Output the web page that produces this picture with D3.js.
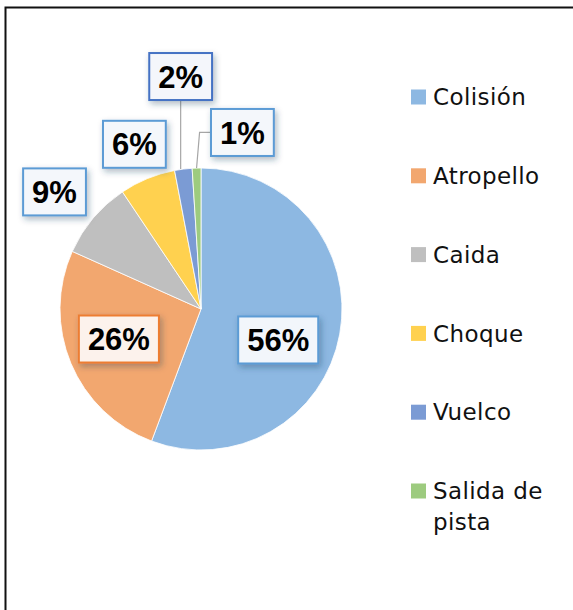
<!DOCTYPE html>
<html>
<head>
<meta charset="utf-8">
<script src="https://cdn.jsdelivr.net/npm/d3@7"></script>
<style>
  body { margin: 0; background: #fff; }
</style>
</head>
<body>
<div id="chart"></div>
<script>
// data
const categories = ["Colisión", "Atropello", "Caida", "Choque", "Vuelco", "Salida de pista"];
const values = [55.7, 26.0, 8.9, 6.4, 2.0, 1.0];
const colors = ["#8db8e2", "#f2a76f", "#bfbfbf", "#ffd14f", "#7b9bd4", "#9dcb7f"];
const labelBorders = ["#5b9bd5", "#ed7d31", "#5b9bd5", "#5b9bd5", "#4472c4", "#5b9bd5"];
const labelFills = ["#f2f6fb", "#fcf2ec", "#f4f7fb", "#f4f7fb", "#f4f6fb", "#f4f7fb"];

const width = 573, height = 610;
const cx = 201, cy = 309, radius = 141;

// label placement: distance from centre (as fraction of radius) and angle nudge (degrees)
const labelPlace = [
  { r: 0.59, da: 11.6 },
  { r: 0.62, da: 2.6 },
  { r: 1.33, da: -1.5 },
  { r: 1.26, da: 0.3 },
  { r: 1.655, da: 2.2 },
  { r: 1.286, da: 15 }
];

const svg = d3.select("#chart")
  .append("svg")
  .attr("width", width)
  .attr("height", height);

const defs = svg.append("defs");
const shadow = defs.append("filter").attr("id", "shadow")
  .attr("x", "-30%").attr("y", "-30%").attr("width", "160%").attr("height", "170%");
shadow.append("feDropShadow")
  .attr("dx", 2).attr("dy", 3).attr("stdDeviation", 3)
  .attr("flood-color", "#1f3b5c").attr("flood-opacity", 0.35);

// outer frame
svg.append("rect")
  .attr("x", 5.5).attr("y", 7.5)
  .attr("width", 600).attr("height", 640)
  .attr("fill", "none")
  .attr("stroke", "#111")
  .attr("stroke-width", 2);

const pie = d3.pie().sort(null).value(d => d)(values);
const arc = d3.arc().innerRadius(0).outerRadius(radius);

const g = svg.append("g").attr("transform", "translate(" + cx + "," + cy + ")");

g.selectAll("path")
  .data(pie)
  .enter().append("path")
  .attr("d", arc)
  .attr("fill", (d, i) => colors[i])
  .attr("stroke", "#fff")
  .attr("stroke-width", 0.8);

// label positions
const pos = pie.map((d, i) => {
  const a = (d.startAngle + d.endAngle) / 2 + labelPlace[i].da * Math.PI / 180;
  const r = radius * labelPlace[i].r;
  return { x: Math.sin(a) * r, y: -Math.cos(a) * r };
});

// leader lines for the two smallest slices
const edge = (d, f) => {
  const a = d.startAngle + (d.endAngle - d.startAngle) * f;
  return [Math.sin(a) * radius, -Math.cos(a) * radius];
};
const lineColor = "#a6a6a6";
{
  const p = pos[4];
  const e = edge(pie[4], 0.5);
  g.append("line")
    .attr("x1", p.x).attr("y1", p.y + 24)
    .attr("x2", p.x).attr("y2", e[1])
    .attr("stroke", lineColor).attr("stroke-width", 1.2);
}
{
  const p = pos[5];
  const e = edge(pie[5], 0.5);
  const bx = p.x - 31;
  g.append("polyline")
    .attr("points", [[bx, p.y], [e[0] + 3, p.y], [e[0], e[1]]].map(q => q.join(",")).join(" "))
    .attr("fill", "none")
    .attr("stroke", lineColor).attr("stroke-width", 1.2);
}

// data labels
const labels = g.selectAll("g.lbl")
  .data(pie)
  .enter().append("g")
  .attr("class", "lbl")
  .attr("transform", (d, i) => "translate(" + pos[i].x + "," + pos[i].y + ")");

labels.each(function (d, i) {
  const sel = d3.select(this);
  const rect = sel.append("rect");
  const txt = sel.append("text")
    .attr("text-anchor", "middle")
    .attr("dy", "0.36em")
    .attr("font-family", "'Liberation Sans', Arial, sans-serif")
    .attr("font-weight", "bold")
    .attr("font-size", 31)
    .attr("fill", "#000")
    .text(Math.round(d.value) + "%");
  const w = txt.node().getComputedTextLength() + 18;
  const h = 47;
  rect.attr("x", -w / 2).attr("y", -h / 2)
    .attr("width", w).attr("height", h)
    .attr("fill", labelFills[i])
    .attr("stroke", labelBorders[i])
    .attr("stroke-width", 2)
    .attr("filter", "url(#shadow)");
});

// legend
const legendY = d3.scalePoint()
  .domain(categories)
  .range([97, 491]);

const legend = svg.append("g").selectAll("g")
  .data(categories)
  .enter().append("g")
  .attr("transform", d => "translate(411," + legendY(d) + ")");

legend.append("rect")
  .attr("x", 0).attr("y", -7.5)
  .attr("width", 15).attr("height", 15)
  .attr("fill", (d, i) => colors[i]);

legend.append("text")
  .attr("x", 22)
  .attr("font-family", "'DejaVu Sans', sans-serif")
  .attr("font-size", 23)
  .attr("letter-spacing", 0.4)
  .attr("fill", "#111")
  .each(function (d) {
    const t = d3.select(this);
    const parts = d === "Salida de pista" ? ["Salida de", "pista"] : [d];
    parts.forEach((p, k) => {
      t.append("tspan")
        .attr("x", 22)
        .attr("dy", k === 0 ? "0.36em" : 31)
        .text(p);
    });
  });
</script>
</body>
</html>
